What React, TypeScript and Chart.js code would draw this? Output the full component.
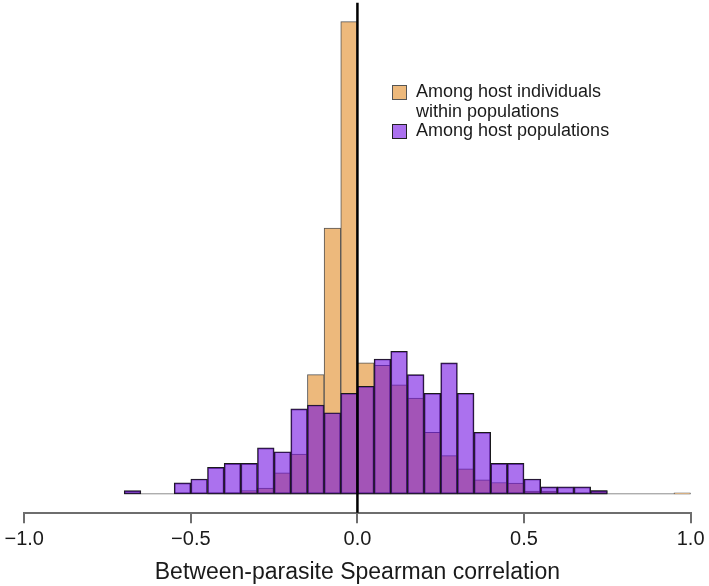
import React, { useEffect, useRef } from 'react';
import { Chart, registerables } from 'chart.js';

Chart.register(...registerables);

const FONT = "'Liberation Sans', Arial, Helvetica, sans-serif";

const binWidth = 0.05;

// Among host populations (purple) — bin left edges and density
const popBinStarts = [
  -0.7, -0.65, -0.6, -0.55, -0.5, -0.45, -0.4, -0.35, -0.3, -0.25, -0.2, -0.15, -0.1, -0.05,
  0.0, 0.05, 0.1, 0.15, 0.2, 0.25, 0.3, 0.35, 0.4, 0.45, 0.5, 0.55, 0.6, 0.65, 0.7,
];
const popDensity = [
  0.04, 0, 0, 0.14, 0.19, 0.34, 0.39, 0.39, 0.59, 0.54, 1.09, 1.14, 1.04, 1.29,
  1.38, 1.73, 1.83, 1.53, 1.29, 1.68, 1.29, 0.79, 0.39, 0.39, 0.19, 0.09, 0.09, 0.09, 0.04,
];

// Among host individuals within populations (orange)
const indBinStarts = [
  -0.45, -0.4, -0.35, -0.3, -0.25, -0.2, -0.15, -0.1, -0.05,
  0.0, 0.05, 0.1, 0.15, 0.2, 0.25, 0.3, 0.35, 0.4, 0.45, 0.5, 0.55, 0.6, 0.65, 0.7,
  0.75, 0.8, 0.85, 0.9, 0.95,
];
const indDensity = [
  0, 0.013, 0.043, 0.073, 0.27, 0.51, 1.53, 3.41, 6.06,
  1.68, 1.65, 1.4, 1.23, 0.79, 0.49, 0.32, 0.18, 0.145, 0.137, 0.035, 0.035, 0, 0, 0.043,
  0, 0, 0, 0, 0.013,
];

const tickValues = [-1, -0.5, 0, 0.5, 1];
const tickLabels = ['\u22121.0', '\u22120.5', '0.0', '0.5', '1.0'];
const legendIndLines = ['Among host individuals', 'within populations'];
const legendPopLines = ['Among host populations'];
const xTitle = 'Between-parasite Spearman correlation';

const ORANGE = 'rgb(237,185,124)';
const PURPLE = 'rgba(110,10,225,0.58)';

const toPoints = (starts: number[], vals: number[]) =>
  starts.map((s, i) => ({ x: s + binWidth / 2, y: vals[i] }));

const yMax = Math.max(...popDensity, ...indDensity);

const baselinePlugin = {
  id: 'baselines',
  beforeDatasetsDraw(chart: any) {
    const { ctx, scales } = chart;
    const y0 = scales.y.getPixelForValue(0);
    const ranges = [
      [indBinStarts[0], indBinStarts[indBinStarts.length - 1] + binWidth],
      [popBinStarts[0], popBinStarts[popBinStarts.length - 1] + binWidth],
    ];
    ctx.save();
    ctx.strokeStyle = '#8c8c8c';
    ctx.lineWidth = 1;
    ranges.forEach(([a, b]) => {
      ctx.beginPath();
      ctx.moveTo(scales.x.getPixelForValue(a), y0);
      ctx.lineTo(scales.x.getPixelForValue(b), y0);
      ctx.stroke();
    });
    ctx.restore();
  },
};

const zeroLinePlugin = {
  id: 'zeroLine',
  afterDatasetsDraw(chart: any) {
    const { ctx, scales, chartArea } = chart;
    const x = scales.x.getPixelForValue(0);
    ctx.save();
    ctx.strokeStyle = '#000';
    ctx.lineWidth = 2.5;
    ctx.beginPath();
    ctx.moveTo(x, chartArea.top);
    ctx.lineTo(x, chartArea.bottom);
    ctx.stroke();
    ctx.restore();
  },
};

const legendPlugin = {
  id: 'customLegend',
  afterDraw(chart: any) {
    const { ctx } = chart;
    ctx.save();
    const boxX = 392;
    const size = 15;
    const textX = 416;
    const lineH = 19.5;
    const items = [
      { color: ORANGE, border: '#555', lines: legendIndLines, top: 85 },
      { color: PURPLE, border: '#222', lines: legendPopLines, top: 124 },
    ];
    ctx.font = `18px ${FONT}`;
    ctx.textBaseline = 'middle';
    ctx.textAlign = 'left';
    items.forEach((it) => {
      ctx.fillStyle = it.color;
      ctx.fillRect(boxX, it.top, size, size);
      ctx.strokeStyle = it.border;
      ctx.lineWidth = 1;
      ctx.strokeRect(boxX + 0.5, it.top + 0.5, size - 1, size - 1);
      ctx.fillStyle = '#1a1a1a';
      it.lines.forEach((t, i) => {
        ctx.fillText(t, textX, it.top + size / 2 + i * lineH);
      });
    });
    ctx.restore();
  },
};

export default function App() {
  const canvasRef = useRef<HTMLCanvasElement | null>(null);

  useEffect(() => {
    if (!canvasRef.current) return;
    const chart = new Chart(canvasRef.current, {
      type: 'bar',
      data: {
        datasets: [
          {
            label: legendPopLines.join(' '),
            data: toPoints(popBinStarts, popDensity),
            backgroundColor: PURPLE,
            borderColor: '#1a1a1a',
            borderWidth: 1,
            borderSkipped: false,
            grouped: false,
            barPercentage: 1,
            categoryPercentage: 1,
            order: 0,
          },
          {
            label: legendIndLines.join(' '),
            data: toPoints(indBinStarts, indDensity),
            backgroundColor: ORANGE,
            borderColor: '#555',
            borderWidth: 1,
            borderSkipped: false,
            grouped: false,
            barPercentage: 1,
            categoryPercentage: 1,
            order: 1,
          },
        ] as any,
      },
      options: {
        animation: false,
        responsive: false,
        devicePixelRatio: 1,
        layout: { padding: { left: 22.5, right: 17, top: 2.7, bottom: 0 } },
        plugins: { legend: { display: false }, tooltip: { enabled: false } },
        scales: {
          x: {
            type: 'linear',
            min: -1,
            max: 1,
            offset: false,
            afterBuildTicks: (s: any) => {
              s.ticks = tickValues.map((v) => ({ value: v }));
            },
            afterFit: (s: any) => {
              s.height = 73.3;
            },
            border: { display: true, color: '#6e6e6e', width: 2 },
            grid: {
              display: true,
              drawOnChartArea: false,
              drawTicks: true,
              tickLength: 10.5,
              color: '#6e6e6e',
              lineWidth: 2,
              offset: false,
            },
            ticks: {
              autoSkip: false,
              maxRotation: 0,
              padding: 4.5,
              color: '#1a1a1a',
              font: { size: 20, family: FONT },
              callback: (_v: any, i: number) => tickLabels[i],
            },
            title: {
              display: true,
              text: xTitle,
              color: '#1a1a1a',
              font: { size: 23, family: FONT },
              padding: { top: 0, bottom: 0 },
            },
          },
          y: {
            display: false,
            min: -0.04 * yMax,
            max: 1.04 * yMax,
          },
        },
      } as any,
      plugins: [baselinePlugin, zeroLinePlugin, legendPlugin],
    });
    return () => chart.destroy();
  }, []);

  return (
    <div style={{ position: 'absolute', left: 0, top: 0, width: 709, height: 586, background: '#fff' }}>
      <canvas ref={canvasRef} width={709} height={586} style={{ display: 'block' }} />
    </div>
  );
}
